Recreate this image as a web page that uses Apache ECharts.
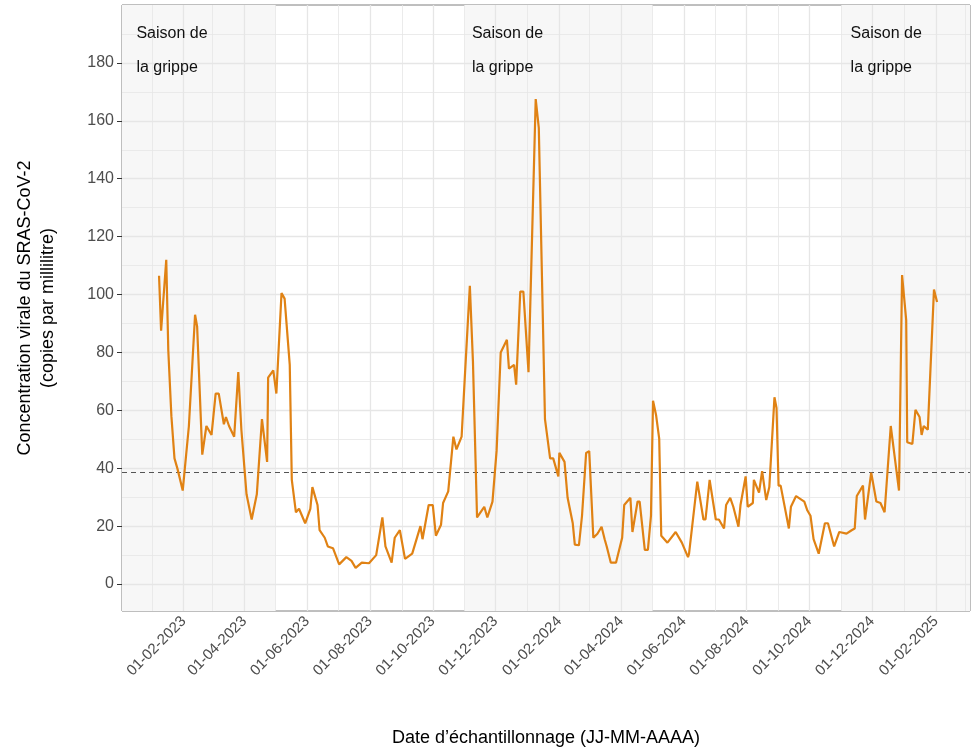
<!DOCTYPE html>
<html><head><meta charset="utf-8">
<script src="https://cdn.jsdelivr.net/npm/echarts@6/dist/echarts.min.js"></script>
<style>html,body{margin:0;padding:0;background:#fff}#c{width:978px;height:752px}</style>
</head><body><div id="c"></div>
<script>
const dates = ['2023-01-08','2023-01-10','2023-01-15','2023-01-17','2023-01-20','2023-01-23','2023-01-26','2023-01-31','2023-02-06','2023-02-12','2023-02-14','2023-02-19','2023-02-23','2023-02-28','2023-03-04','2023-03-07','2023-03-12','2023-03-14','2023-03-17','2023-03-22','2023-03-26','2023-03-29','2023-04-03','2023-04-08','2023-04-13','2023-04-18','2023-04-23','2023-04-24','2023-04-29','2023-05-02','2023-05-07','2023-05-10','2023-05-15','2023-05-17','2023-05-21','2023-05-24','2023-05-30','2023-06-04','2023-06-06','2023-06-11','2023-06-13','2023-06-18','2023-06-21','2023-06-26','2023-07-02','2023-07-09','2023-07-14','2023-07-18','2023-07-24','2023-07-31','2023-08-07','2023-08-13','2023-08-16','2023-08-22','2023-08-25','2023-08-30','2023-09-04','2023-09-11','2023-09-19','2023-09-21','2023-09-27','2023-10-01','2023-10-04','2023-10-09','2023-10-11','2023-10-16','2023-10-21','2023-10-24','2023-10-29','2023-11-01','2023-11-06','2023-11-09','2023-11-13','2023-11-20','2023-11-23','2023-11-28','2023-12-02','2023-12-06','2023-12-12','2023-12-14','2023-12-19','2023-12-21','2023-12-25','2023-12-28','2024-01-02','2024-01-09','2024-01-12','2024-01-18','2024-01-23','2024-01-26','2024-01-31','2024-02-01','2024-02-06','2024-02-09','2024-02-14','2024-02-16','2024-02-20','2024-02-23','2024-02-27','2024-03-01','2024-03-05','2024-03-09','2024-03-13','2024-03-16','2024-03-18','2024-03-22','2024-03-27','2024-04-02','2024-04-04','2024-04-10','2024-04-12','2024-04-17','2024-04-19','2024-04-24','2024-04-27','2024-04-30','2024-05-02','2024-05-05','2024-05-08','2024-05-10','2024-05-16','2024-05-24','2024-05-30','2024-06-05','2024-06-06','2024-06-14','2024-06-20','2024-06-22','2024-06-26','2024-07-02','2024-07-05','2024-07-10','2024-07-12','2024-07-16','2024-07-19','2024-07-24','2024-07-26','2024-07-31','2024-08-02','2024-08-07','2024-08-08','2024-08-13','2024-08-16','2024-08-20','2024-08-23','2024-08-28','2024-08-30','2024-09-01','2024-09-03','2024-09-11','2024-09-13','2024-09-18','2024-09-26','2024-09-29','2024-10-02','2024-10-05','2024-10-10','2024-10-16','2024-10-19','2024-10-25','2024-10-30','2024-11-06','2024-11-11','2024-11-14','2024-11-16','2024-11-22','2024-11-24','2024-11-30','2024-12-05','2024-12-09','2024-12-13','2024-12-19','2024-12-27','2024-12-30','2025-01-03','2025-01-04','2025-01-09','2025-01-12','2025-01-16','2025-01-18','2025-01-20','2025-01-24','2025-01-30','2025-02-02'];
const values = [106.5,87.5,112,80.6,58,43.4,39.7,32.3,54.6,93,89,44.7,54.6,51.5,65.8,65.8,55.2,57.7,54.6,50.9,73.2,53.3,31,22.3,31,57,42.2,71.3,73.8,65.8,100.5,98.6,75.7,36,24.8,26,21,26,33.5,27.3,18.6,16,13,12.4,6.8,9.3,8,5.6,7.4,7.2,10,23,13,7.4,16,18.6,8.7,10.5,20,15.5,27.3,27.3,16.7,20.5,28,32,50.9,46.5,50.9,70.7,103,77,23,26.7,23,28.5,46,80,84.4,74.4,75.7,68.9,101,101,73.2,167.5,157.6,57,43.4,43.4,37.2,45.3,42.2,29.8,21,13.6,13.4,23.6,45.3,45.9,16,17.4,19.8,15.5,13,7.4,7.4,16,27.3,29.8,18,28.5,28.5,11.8,11.8,23.6,63.3,58.3,50.2,16.7,14.3,18,14.3,9.3,10.5,35.4,22.3,22.3,36,22.3,22.3,19.2,27.3,29.8,26.7,19.8,27.3,37.2,26.7,28,36,31.6,39,29,33.5,64.5,60.8,34,34,19.2,26.7,30.4,28.5,25.4,23.6,15.5,10.5,21,21,13,18,17.4,18.6,19.2,30.4,34,22.3,38.5,28.5,28,24.8,54.6,32.3,106.7,91.2,49,48.4,60.2,57.7,51.5,54.6,53.3,101.7,97.4];
const xTicks = ['2023-02-01','2023-04-01','2023-06-01','2023-08-01','2023-10-01','2023-12-01','2024-02-01','2024-04-01','2024-06-01','2024-08-01','2024-10-01','2024-12-01','2025-02-01'];
const xMinor = ['2023-01-01','2023-03-01','2023-05-01','2023-07-01','2023-09-01','2023-11-01','2024-01-01','2024-03-01','2024-05-01','2024-07-01','2024-09-01','2024-11-01','2025-01-01','2025-03-01'];
const yTicks = [0,20,40,60,80,100,120,140,160,180];
const yMinor = [10,30,50,70,90,110,130,150,170,190];
const fluSeasons = [['2022-11-01','2023-05-01'],['2023-11-01','2024-05-01'],['2024-11-01','2025-05-01']];
const fluLabelDates = ['2022-12-17','2023-11-08','2024-11-10'];
const threshold = 38.5;

const ts = d => Date.parse(d + 'T00:00:00Z');
const xMin = ts('2022-12-03'), xMax = ts('2025-03-06');
const pad = n => String(n).padStart(2,'0');
const fmt = v => { const d = new Date(v); return pad(d.getUTCDate())+'-'+pad(d.getUTCMonth()+1)+'-'+d.getUTCFullYear(); };
const gridCol = '#e6e6e6';
const lineData = dates.map((d,i)=>[ts(d), values[i]]);
const font = 'Liberation Sans, Arial';

const chart = echarts.init(document.getElementById('c'));
chart.setOption({
  animation:false,
  grid:{left:122,right:8,top:5,bottom:140,show:true,borderColor:'#7f7f7f',borderWidth:1,backgroundColor:'#fff'},
  xAxis:{type:'value',min:xMin,max:xMax,
    axisLine:{show:false},splitLine:{show:false},
    axisTick:{show:true,length:5,customValues:xTicks.map(ts),lineStyle:{color:'#333'}},
    axisLabel:{customValues:xTicks.map(ts),formatter:fmt,rotate:45,color:'#4d4d4d',fontSize:15,fontFamily:font,margin:8},
    name:'Date d\u2019échantillonnage (JJ-MM-AAAA)',nameLocation:'middle',nameGap:118,
    nameTextStyle:{fontSize:18,color:'#000',fontFamily:font}},
  yAxis:{type:'value',min:-9.3,max:200,
    axisLine:{show:false},splitLine:{show:false},
    axisTick:{show:true,length:5,customValues:yTicks,lineStyle:{color:'#333'}},
    axisLabel:{customValues:yTicks,color:'#4d4d4d',fontSize:16,fontFamily:font,margin:8},
    name:'Concentration virale du SRAS-CoV-2\n(copies par millilitre)',nameLocation:'middle',nameGap:62,
    nameTextStyle:{fontSize:18,color:'#000',lineHeight:23,fontFamily:font}},
  series:[
    {type:'line',data:[],silent:true,z:1,zlevel:0,
      markArea:{silent:true,itemStyle:{color:'#f7f7f7'},
        data:fluSeasons.map(s=>[{xAxis:Math.max(ts(s[0]),xMin)},{xAxis:Math.min(ts(s[1]),xMax)}])}},
    {type:'line',data:[],silent:true,z:2,
      markLine:{silent:true,symbol:'none',label:{show:false},animation:false,
        data:[...xTicks.map(d=>({xAxis:ts(d),lineStyle:{color:gridCol,width:1.3,type:'solid'}})),
              ...xMinor.filter(d=>ts(d)<xMax).map(d=>({xAxis:ts(d),lineStyle:{color:gridCol,width:0.8,type:'solid'}})),
              ...yTicks.map(v=>({yAxis:v,lineStyle:{color:gridCol,width:1.3,type:'solid'}})),
              ...yMinor.map(v=>({yAxis:v,lineStyle:{color:gridCol,width:0.8,type:'solid'}}))]}},
    {type:'line',data:[],silent:true,z:3,
      markLine:{silent:true,symbol:'none',label:{show:false},
        data:[{yAxis:threshold,lineStyle:{color:'#555',width:1,type:[5,4]}}]},
      markPoint:{silent:true,symbol:'circle',symbolSize:0,
        label:{show:true,formatter:'Saison de\nla grippe',position:'right',distance:0,align:'left',verticalAlign:'top',
          fontSize:16,lineHeight:34,color:'#111',fontFamily:font},
        data:fluLabelDates.map(d=>({coord:[ts(d),196]}))}},
    {type:'line',data:lineData,showSymbol:false,z:10,
      lineStyle:{color:'#e08214',width:2.2},itemStyle:{color:'#e08214'}}
  ]
});
</script></body></html>
